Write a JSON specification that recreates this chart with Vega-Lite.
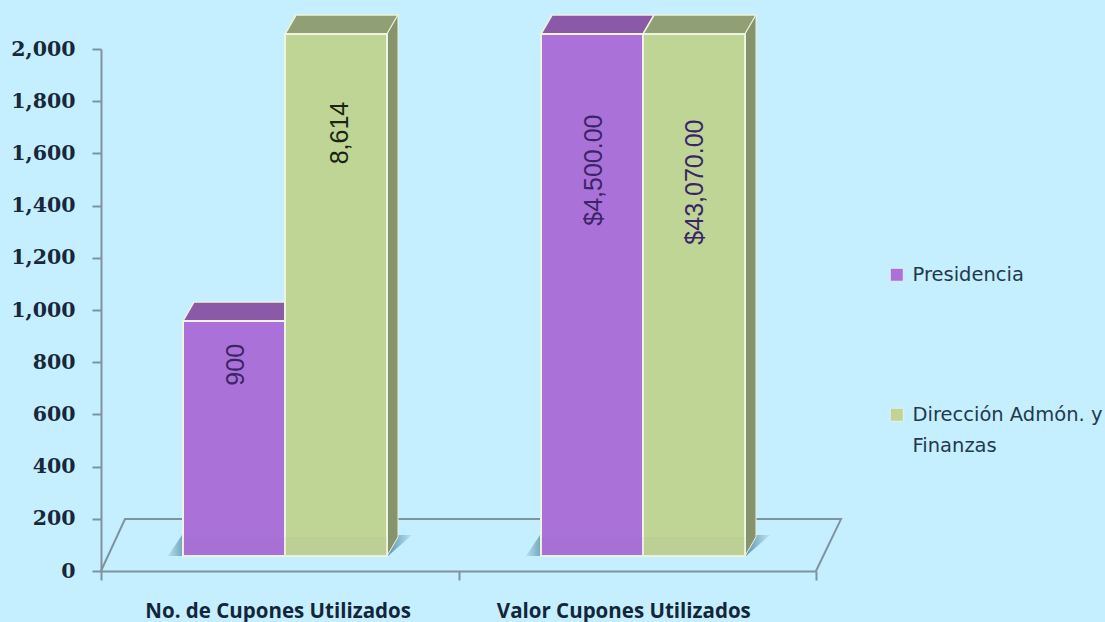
{
"$schema":"https://vega.github.io/schema/vega-lite/v6.json",
"width":715,"height":522,
"autosize":{"type":"none"},
"padding":{"left":101,"top":49,"right":289,"bottom":51},
"background":"#C5EEFF",
"config":{"view":{"stroke":null}},
"datasets":{
"floor":[{"n":1,"x":0,"y":0},{"n":2,"x":0.0671,"y":199},{"n":3,"x":2.07,"y":199},{"n":4,"x":2,"y":0}],
"shadow":[
{"g":"a","x":0.1874,"y":57.5,"y2":57.5},{"g":"a","x":0.2266,"y":57.5,"y2":138},{"g":"a","x":0.8028,"y":57.5,"y2":138},{"g":"a","x":0.8699,"y":138,"y2":138},
{"g":"b","x":1.1888,"y":57.5,"y2":57.5},{"g":"b","x":1.228,"y":57.5,"y2":138},{"g":"b","x":1.8042,"y":57.5,"y2":138},{"g":"b","x":1.8713,"y":138,"y2":138}],
"faces":[
{"f":"A","s":"p","x":0.2294,"y":958,"y2":958},{"f":"A","s":"p","x":0.2602,"y":958,"y2":1031},{"f":"A","s":"p","x":0.5147,"y":958,"y2":1031},{"f":"A","s":"p","x":0.5455,"y":1031,"y2":1031},
{"f":"C","s":"p","x":1.2308,"y":2057,"y2":2057},{"f":"C","s":"p","x":1.2616,"y":2057,"y2":2130},{"f":"C","s":"p","x":1.5161,"y":2057,"y2":2130},{"f":"C","s":"p","x":1.5469,"y":2130,"y2":2130},
{"f":"B","s":"g","x":0.5147,"y":2057,"y2":2057},{"f":"B","s":"g","x":0.5455,"y":2057,"y2":2130},{"f":"B","s":"g","x":0.8,"y":2057,"y2":2130},{"f":"B","s":"g","x":0.8308,"y":2130,"y2":2130},
{"f":"D","s":"g","x":1.5161,"y":2057,"y2":2057},{"f":"D","s":"g","x":1.5469,"y":2057,"y2":2130},{"f":"D","s":"g","x":1.8014,"y":2057,"y2":2130},{"f":"D","s":"g","x":1.8322,"y":2130,"y2":2130}],
"sides":[
{"f":"B","x":0.8,"y":2057,"y2":57.5},{"f":"B","x":0.8308,"y":2130,"y2":130.5},
{"f":"D","x":1.8014,"y":2057,"y2":57.5},{"f":"D","x":1.8322,"y":2130,"y2":130.5}],
"bars":[
{"serie":"Presidencia","x":0.2294,"x2":0.5147,"y":958,"y2":57.5},
{"serie":"Dirección Admón. y Finanzas","x":0.5147,"x2":0.8,"y":2057,"y2":57.5},
{"serie":"Presidencia","x":1.2308,"x2":1.5161,"y":2057,"y2":57.5},
{"serie":"Dirección Admón. y Finanzas","x":1.5161,"x2":1.8014,"y":2057,"y2":57.5}],
"bands":[
{"x":0.2294,"x2":0.5147,"y":130.5,"y2":57.5},
{"x":0.5147,"x2":0.8,"y":130.5,"y2":57.5},
{"x":1.2308,"x2":1.5161,"y":130.5,"y2":57.5},
{"x":1.5161,"x2":1.8014,"y":130.5,"y2":57.5}],
"labels":[
{"t":"900","x":0.3765,"y":790,"s":"p"},
{"t":"8,614","x":0.669,"y":1678,"s":"g"},
{"t":"$4,500.00","x":1.379,"y":1536,"s":"p"},
{"t":"$43,070.00","x":1.6615,"y":1490,"s":"g"}]
},
"encoding":{
"x":{"field":"x","type":"quantitative","title":null,"scale":{"domain":[0,2],"nice":false,"zero":false},
"axis":{"values":[0,0.494,1,1.461,2],"grid":false,"domainColor":"#7F939F","domainWidth":2,"tickColor":"#7F939F","tickWidth":2,"tickSize":9,
"tickOpacity":{"condition":{"test":"datum.value==0.494||datum.value==1.461","value":0},"value":1},
"labelExpr":"datum.value==0.494?'No. de Cupones Utilizados':datum.value==1.461?'Valor Cupones Utilizados':''",
"labelFont":"Open Sans","labelFontWeight":"bold","labelFontSize":20.5,"labelColor":"#12263A","labelPadding":21,"labelLimit":400,"labelOverlap":false,"labelFlush":false,"labelBound":false}},
"y":{"field":"y","type":"quantitative","title":null,"scale":{"domain":[0,2000],"nice":false,"zero":false},
"axis":{"values":[0,200,400,600,800,1000,1200,1400,1600,1800,2000],"format":",d","grid":false,"domainColor":"#7F939F","domainWidth":2,"tickColor":"#7F939F","tickWidth":2,"tickSize":9,
"labelFont":"DejaVu Serif","labelFontWeight":"bold","labelFontSize":20.5,"labelColor":"#16283A","labelPadding":17,"labelOverlap":false,"labelFlush":false,"labelBound":false}}
},
"layer":[
{"data":{"name":"floor"},"mark":{"type":"line","color":"#7F939F","strokeWidth":2},"encoding":{"order":{"field":"n"}}},
{"data":{"name":"shadow"},"mark":{"type":"area","color":{"gradient":"linear","x1":0,"x2":1,"y1":0,"y2":0,"stops":[{"offset":0,"color":"#B6E0F0"},{"offset":0.08,"color":"#5F94AE"},{"offset":0.9,"color":"#5F94AE"},{"offset":1,"color":"#BCE4F4"}]}},"encoding":{"y2":{"field":"y2"},"detail":{"field":"g"}}},
{"data":{"name":"faces"},"transform":[{"filter":"datum.s=='p'"}],"mark":{"type":"area","color":"#8A59A8","stroke":"#EDF2DC","strokeWidth":1.5},"encoding":{"y2":{"field":"y2"},"detail":{"field":"f"}}},
{"data":{"name":"faces"},"transform":[{"filter":"datum.s=='g'"}],"mark":{"type":"area","color":"#909F74","stroke":"#EDF2DC","strokeWidth":1.5},"encoding":{"y2":{"field":"y2"},"detail":{"field":"f"}}},
{"data":{"name":"sides"},"mark":{"type":"area","color":"#85946C","stroke":"#EDF2DC","strokeWidth":1},"encoding":{"y2":{"field":"y2"},"detail":{"field":"f"}}},
{"data":{"name":"bars"},"mark":{"type":"rect","stroke":"#EFF3E2","strokeWidth":2},
"encoding":{"x2":{"field":"x2"},"y2":{"field":"y2"},
"color":{"field":"serie","type":"nominal","title":null,"sort":["Presidencia","Dirección Admón. y Finanzas"],
"scale":{"domain":["Presidencia","Dirección Admón. y Finanzas"],"range":["#AA72D8","#BFD596"]},
"legend":{"orient":"none","legendX":786,"legendY":216,"symbolType":"square","symbolSize":170,"symbolStrokeColor":"#E6EEF6","symbolStrokeWidth":1,
"labelFont":"DejaVu Sans","labelFontSize":19.5,"labelColor":"#223A4C","rowPadding":119,"labelOffset":6,"labelLimit":220,
"encoding":{"labels":{"lineHeight":{"value":31}}},
"labelExpr":"datum.label=='Dirección Admón. y Finanzas'?['Dirección Admón. y','Finanzas']:datum.label"}}}},
{"data":{"name":"bands"},"mark":{"type":"rect","color":"#5A3A80","opacity":0.03},"encoding":{"x2":{"field":"x2"},"y2":{"field":"y2"}}},
{"data":{"name":"labels"},"mark":{"type":"text","angle":270,"align":"center","baseline":"middle","font":"Liberation Sans","fontSize":25},
"encoding":{"text":{"field":"t"},
"color":{"condition":{"test":"datum.t=='8,614'","value":"#1B2410"},"value":"#3B2468"}}}
]
}
